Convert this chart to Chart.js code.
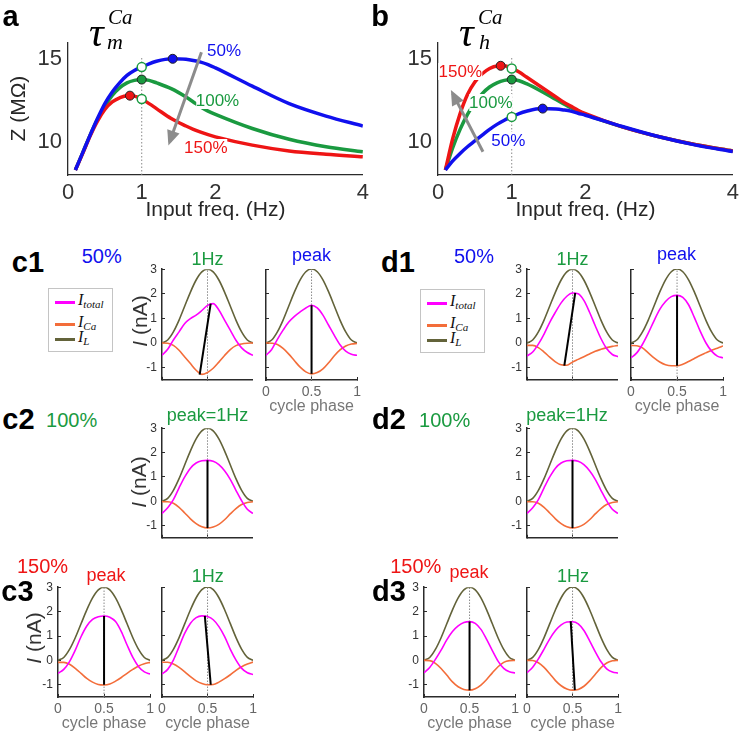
<!DOCTYPE html>
<html>
<head>
<meta charset="utf-8">
<script src="https://cdn.jsdelivr.net/npm/chart.js@4.4.0/dist/chart.umd.min.js"></script>
<style>
  body { margin: 0; background: #fff; }
  #fig { position: relative; width: 741px; height: 736px; overflow: hidden; font-family: "Liberation Sans", Arial, sans-serif; }
  .t { position: absolute; white-space: nowrap; line-height: 1; }
</style>
</head>
<body>
<div id="fig"></div>
<script>
// ---- impedance curves (panels a, b) ----
const FREQ = [0.1, 0.2, 0.3, 0.4, 0.5, 0.6, 0.7, 0.8, 0.9, 1.0, 1.1, 1.2, 1.4, 1.6, 1.7, 1.8, 1.9, 2.0, 2.5, 3.0, 3.5, 4.0];
const FREQ_TICKS = [0, 1, 2, 4];
const Z_TICKS = [10, 15];

// a: tau_m scaled to 50 / 100 / 150 %
const A_Z50  = [8.3, 9.35, 10.4, 11.4, 12.3, 13.0, 13.55, 14.0, 14.3, 14.5, 14.7, 14.85, 15.0, 14.97, 14.9, 14.8, 14.65, 14.45, 13.35, 12.3, 11.55, 10.95];
const A_Z100 = [8.3, 9.35, 10.4, 11.35, 12.15, 12.8, 13.25, 13.55, 13.7, 13.75, 13.7, 13.55, 13.2, 12.7, 12.4, 12.1, 11.85, 11.65, 10.8, 10.15, 9.7, 9.4];
const A_Z150 = [8.3, 9.3, 10.35, 11.25, 11.95, 12.4, 12.65, 12.78, 12.75, 12.58, 12.3, 12.0, 11.4, 10.95, 10.75, 10.58, 10.43, 10.3, 9.8, 9.45, 9.25, 9.1];
const A_PEAK_F = [1.42, 1.0, 0.84];      // 50, 100, 150 %
const A_PEAK_Z = [15.0, 13.75, 12.78];
const A_AT1_Z = [14.5, 12.58];           // 50 %, 150 % at 1 Hz
const A_ARROW_F = [1.81, 1.38];
const A_ARROW_Z = [15.4, 10.0];

// b: tau_h scaled to 50 / 100 / 150 %
const B_Z50  = [8.3, 8.85, 9.3, 9.7, 10.05, 10.4, 10.75, 11.05, 11.3, 11.5, 11.7, 11.84, 12.0, 11.97, 11.92, 11.85, 11.72, 11.6, 10.92, 10.3, 9.8, 9.42];
const B_Z100 = [8.3, 9.65, 10.75, 11.65, 12.35, 12.9, 13.3, 13.55, 13.7, 13.75, 13.68, 13.5, 13.05, 12.55, 12.3, 12.05, 11.85, 11.65, 10.9, 10.3, 9.82, 9.45];
const B_Z150 = [8.3, 10.2, 11.7, 12.85, 13.6, 14.1, 14.42, 14.57, 14.58, 14.42, 14.2, 13.9, 13.3, 12.7, 12.4, 12.15, 11.9, 11.7, 10.9, 10.3, 9.82, 9.45];
const B_PEAK_F = [1.42, 1.0, 0.85];
const B_PEAK_Z = [12.0, 13.75, 14.58];
const B_AT1_Z = [11.5, 14.42];
const B_ARROW_F = [0.61, 0.2];
const B_ARROW_Z = [9.4, 12.9];

const DOT_F = [1, 1];
const DOT_Z = [8, 15.1];

// ---- currents over one cycle (panels c, d) ----
const PHASE = [0, 0.0625, 0.125, 0.1875, 0.25, 0.3125, 0.375, 0.4375, 0.5, 0.5625, 0.625, 0.6875, 0.75, 0.8125, 0.875, 0.9375, 1];
const PHASE_TICKS = [0, 0.5, 1];
const I_TICKS = [-1, 0, 1, 2, 3];
const I_L = [0, 0.12, 0.45, 0.93, 1.5, 2.07, 2.56, 2.89, 3, 2.89, 2.56, 2.07, 1.5, 0.93, 0.45, 0.12, 0];
const MID_X = [0.5, 0.5];
const MID_Y = [-1.5, 3];

const C1A_TOT = [-0.5, -0.26, 0.12, 0.45, 0.79, 0.99, 1.13, 1.32, 1.53, 1.6, 1.34, 0.93, 0.52, 0.11, -0.2, -0.39, -0.5];
const C1A_CA  = [0, -0.01, -0.1, -0.3, -0.57, -0.84, -1.11, -1.28, -1.2, -1.03, -0.78, -0.51, -0.27, -0.11, -0.04, -0.01, 0];
const C1A_LX = [0.414, 0.535], C1A_LY = [-1.29, 1.6];
const C1B_TOT = [-0.5, -0.26, 0.15, 0.52, 0.85, 1.08, 1.26, 1.42, 1.53, 1.42, 1.13, 0.72, 0.31, -0.07, -0.33, -0.46, -0.5];
const C1B_CA  = [0, -0.01, -0.06, -0.22, -0.45, -0.72, -0.98, -1.17, -1.25, -1.2, -1.05, -0.8, -0.52, -0.28, -0.12, -0.04, -0.02];
const C1B_LX = [0.5, 0.5], C1B_LY = [-1.25, 1.53];

const D1A_TOT = [-0.53, -0.37, -0.05, 0.36, 0.84, 1.25, 1.63, 1.9, 2.03, 2.0, 1.73, 1.25, 0.7, 0.18, -0.23, -0.47, -0.56];
const D1A_CA  = [-0.1, -0.1, -0.19, -0.37, -0.58, -0.77, -0.89, -0.91, -0.78, -0.67, -0.56, -0.45, -0.34, -0.26, -0.19, -0.14, -0.1];
const D1A_LX = [0.41, 0.53], D1A_LY = [-0.92, 2.04];
const D1B_TOT = [-0.6, -0.4, -0.05, 0.4, 0.9, 1.36, 1.68, 1.88, 1.93, 1.85, 1.55, 1.04, 0.49, 0.01, -0.33, -0.53, -0.6];
const D1B_CA  = [-0.1, -0.11, -0.2, -0.4, -0.6, -0.77, -0.88, -0.92, -0.92, -0.86, -0.75, -0.63, -0.51, -0.4, -0.29, -0.21, -0.12];
const D1B_LX = [0.5, 0.5], D1B_LY = [-0.92, 1.93];

const CTRL_TOT = [-0.5, -0.27, 0.07, 0.55, 1.0, 1.36, 1.57, 1.66, 1.68, 1.64, 1.5, 1.25, 0.9, 0.45, 0.02, -0.33, -0.5];
const CTRL_CA  = [-0.02, -0.02, -0.08, -0.25, -0.48, -0.72, -0.92, -1.05, -1.1, -1.06, -0.95, -0.76, -0.52, -0.3, -0.13, -0.05, -0.02];
const CTRL_LX = [0.5, 0.5], CTRL_LY = [-1.1, 1.68];

const C3A_TOT = [-0.53, -0.37, -0.05, 0.42, 0.97, 1.41, 1.68, 1.79, 1.82, 1.77, 1.59, 1.18, 0.63, 0.12, -0.26, -0.47, -0.56];
const C3A_CA  = [-0.08, -0.08, -0.16, -0.33, -0.53, -0.74, -0.89, -0.99, -1.01, -0.97, -0.85, -0.7, -0.53, -0.37, -0.23, -0.14, -0.08];
const C3A_LX = [0.5, 0.5], C3A_LY = [-1.0, 1.82];
const C3B_TOT = [-0.56, -0.37, 0.01, 0.56, 1.11, 1.52, 1.75, 1.82, 1.79, 1.66, 1.38, 0.97, 0.45, 0.01, -0.33, -0.51, -0.58];
const C3B_CA  = [-0.08, -0.08, -0.15, -0.29, -0.47, -0.67, -0.84, -0.95, -1.0, -0.99, -0.89, -0.75, -0.59, -0.41, -0.26, -0.15, -0.07];
const C3B_LX = [0.47, 0.535], C3B_LY = [1.82, -1.0];

const D3A_TOT = [-0.51, -0.29, 0.04, 0.42, 0.84, 1.18, 1.41, 1.55, 1.59, 1.52, 1.27, 0.86, 0.4, -0.03, -0.33, -0.47, -0.51];
const D3A_CA  = [0, -0.01, -0.12, -0.33, -0.6, -0.88, -1.08, -1.19, -1.22, -1.16, -1.01, -0.78, -0.51, -0.26, -0.08, -0.01, 0];
const D3A_LX = [0.5, 0.5], D3A_LY = [-1.22, 1.59];
const D3B_TOT = [-0.51, -0.28, 0.06, 0.46, 0.88, 1.22, 1.45, 1.57, 1.58, 1.49, 1.22, 0.8, 0.35, -0.06, -0.35, -0.48, -0.52];
const D3B_CA  = [0, -0.01, -0.1, -0.29, -0.55, -0.83, -1.04, -1.17, -1.22, -1.19, -1.06, -0.84, -0.57, -0.3, -0.11, -0.02, 0];
const D3B_LX = [0.48, 0.525], D3B_LY = [1.6, -1.22];

const LEGEND_SUBS = ['total', 'Ca', 'L'];

// colours
const BLUE = '#1010ee', GREEN = '#1a9a40', RED = '#ee1515';
const C_TOT = '#ff00ff', C_CA = '#f36d3a', C_L = '#63633a';
const AX = '#2b2b2b', ARROW = '#8c8c8c', DOTC = '#8a8a8a';
const SERIF = '"Liberation Serif", "Times New Roman", serif';

Chart.defaults.font.family = '"Liberation Sans", Arial, sans-serif';
const fig = document.getElementById('fig');
const xy = (xs, ys) => xs.map((x, i) => ({ x: x, y: ys[i] }));
const tickList = vals => axis => { axis.ticks = vals.map(v => ({ value: v })); };

function place(left, top, w, h) {
    const cv = document.createElement('canvas');
    cv.width = w; cv.height = h;
    cv.style.cssText = `position:absolute;left:${left}px;top:${top}px;width:${w}px;height:${h}px`;
    fig.appendChild(cv);
    return cv;
}

// build once to learn how much room the axes take, then rebuild so the
// plot area lands on (x0, y0, w, h)
function mount(x0, y0, w, h, makeConfig) {
    let cv = place(x0 - 60, y0 - 30, w + 90, h + 90);
    let chart = new Chart(cv, makeConfig());
    const ca = chart.chartArea;
    const oL = ca.left, oT = ca.top, oR = chart.width - ca.right, oB = chart.height - ca.bottom;
    chart.destroy();
    cv.remove();
    cv = place(Math.round(x0 - oL), Math.round(y0 - oT), Math.round(oL + w + oR), Math.round(oT + h + oB));
    return new Chart(cv, makeConfig());
}

// draws a head at the last point of any dataset flagged with arrow: true
const arrowHead = {
    id: 'arrowHead',
    afterDatasetsDraw(chart) {
        chart.data.datasets.forEach((ds, i) => {
            if (!ds.arrow) return;
            const pts = chart.getDatasetMeta(i).data;
            const a = pts[0], b = pts[pts.length - 1];
            const ang = Math.atan2(b.y - a.y, b.x - a.x);
            const ctx = chart.ctx;
            ctx.save();
            ctx.fillStyle = ds.borderColor;
            ctx.translate(b.x, b.y);
            ctx.rotate(ang);
            ctx.beginPath();
            ctx.moveTo(4, 0);
            ctx.lineTo(-11, -6.5);
            ctx.lineTo(-11, 6.5);
            ctx.closePath();
            ctx.fill();
            ctx.restore();
        });
    }
};

function freqChart(o) {
    const yW = 61, xH = 50;
    const curve = (ys, color) => ({ data: xy(FREQ, ys), borderColor: color, borderWidth: 3.5, cubicInterpolationMode: 'monotone' });
    mount(o.x0, o.y0, o.x1 - o.x0, o.y1 - o.y0, () => ({
        type: 'line',
        data: {
            datasets: [
                { data: xy(o.peakF, o.peakZ), showLine: false, pointRadius: 4.5, pointBackgroundColor: [BLUE, GREEN, RED], pointBorderColor: '#222', pointBorderWidth: 1 },
                { data: xy(DOT_F, o.at1Z), showLine: false, pointRadius: 4.5, pointBackgroundColor: '#fff', pointBorderColor: GREEN, pointBorderWidth: 1.5 },
                { data: xy(o.arrowF, o.arrowZ), borderColor: ARROW, borderWidth: 3, arrow: true },
                curve(o.z50, BLUE),
                curve(o.z150, RED),
                curve(o.z100, GREEN),
                { data: xy(DOT_F, DOT_Z), borderColor: DOTC, borderWidth: 1, borderDash: [1.5, 2] }
            ]
        },
        options: {
            responsive: false, animation: false, events: [],
            elements: { point: { radius: 0 } },
            layout: { padding: 0 },
            plugins: { legend: { display: false }, tooltip: { enabled: false } },
            scales: {
                x: {
                    type: 'linear', min: 0, max: 4,
                    afterFit: s => { s.height = xH; },
                    afterBuildTicks: tickList(FREQ_TICKS),
                    grid: { display: false, drawTicks: false },
                    border: { display: true, color: AX, width: 1.3 },
                    ticks: { color: '#333', font: { size: 22 }, padding: 5, callback: v => String(v) },
                    title: { display: true, text: 'Input freq. (Hz)', color: '#262626', font: { size: 21 }, padding: { top: 0, bottom: 2.5 } }
                },
                y: {
                    min: 8, max: 16,
                    afterFit: s => { s.width = yW; },
                    afterBuildTicks: tickList(Z_TICKS),
                    grid: { display: false, drawTicks: false },
                    border: { display: true, color: AX, width: 1.3 },
                    ticks: { color: '#333', font: { size: 22 }, padding: 6 },
                    title: { display: o.yTitle, text: 'Z (MΩ)', color: '#262626', font: { size: 21 }, padding: 0 }
                }
            }
        },
        plugins: [arrowHead]
    }));
}

function subplot(s) {
    const yW = 30, xH = s.xLab ? 40 : 6;
    const trace = (ys, color) => ({ data: xy(PHASE, ys), borderColor: color, borderWidth: 1.6, cubicInterpolationMode: 'monotone' });
    const axisCommon = () => ({
        grid: { display: true, drawOnChartArea: false, drawTicks: true, tickLength: -3, color: AX, lineWidth: 1 },
        border: { display: true, color: AX, width: 1.5 }
    });
    mount(s.x0, s.y0, s.x1 - s.x0, s.y1 - s.y0, () => ({
        type: 'line',
        data: {
            datasets: [
                { data: xy(s.lx, s.ly), borderColor: '#000', borderWidth: 2 },
                trace(s.tot, C_TOT),
                trace(s.ca, C_CA),
                trace(I_L, C_L),
                { data: xy(MID_X, MID_Y), borderColor: DOTC, borderWidth: 1, borderDash: [1.5, 1.5] }
            ]
        },
        options: {
            responsive: false, animation: false, events: [],
            elements: { point: { radius: 0 } },
            layout: { padding: 0 },
            plugins: { legend: { display: false }, tooltip: { enabled: false } },
            scales: {
                x: {
                    type: 'linear', min: 0, max: 1,
                    afterFit: sc => { sc.height = xH; },
                    afterBuildTicks: tickList(PHASE_TICKS),
                    ...axisCommon(),
                    ticks: { display: s.xLab, color: '#666', font: { size: 14 }, padding: 7, callback: v => String(v) },
                    title: { display: s.xLab, text: 'cycle phase', color: '#777', font: { size: 16 }, padding: { top: 0, bottom: 3.5 } }
                },
                y: {
                    min: -1.5, max: 3,
                    afterFit: sc => { sc.width = yW; },
                    afterBuildTicks: tickList(I_TICKS),
                    ...axisCommon(),
                    ticks: { display: s.yLab, color: '#333', font: { size: 12 }, padding: 8 }
                }
            }
        }
    }));
}

function text(html, x, base, size, color, o = {}) {
    const d = document.createElement('div');
    d.className = 't';
    d.innerHTML = html;
    d.style.left = x + 'px';
    d.style.top = (base - 0.85 * size) + 'px';
    d.style.fontSize = size + 'px';
    d.style.color = color;
    if (o.bold) d.style.fontWeight = 'bold';
    if (o.serif) { d.style.fontFamily = SERIF; d.style.fontStyle = 'italic'; }
    if (o.bg) d.style.background = '#fff';
    if (o.align !== 'left') d.style.transform = 'translateX(-50%)';
    fig.appendChild(d);
}

function vtext(html, cx, cy, size, color) {
    const d = document.createElement('div');
    d.className = 't';
    d.innerHTML = html;
    d.style.cssText += `left:${cx}px;top:${cy}px;font-size:${size}px;color:${color};transform:translate(-50%,-50%) rotate(-90deg)`;
    fig.appendChild(d);
}

function legend(x, y) {
    const box = document.createElement('div');
    box.style.cssText = `position:absolute;left:${x}px;top:${y}px;width:65px;height:64px;border:1px solid #c4c4c4;background:#fff;box-sizing:border-box`;
    const rows = [13, 35, 50];
    const cols = [C_TOT, C_CA, C_L];
    LEGEND_SUBS.forEach((sub, i) => {
        const ln = document.createElement('div');
        ln.style.cssText = `position:absolute;left:6px;top:${rows[i] - 1.5}px;width:20px;height:3px;background:${cols[i]}`;
        box.appendChild(ln);
        const t = document.createElement('div');
        t.style.cssText = `position:absolute;left:29px;top:${rows[i] - 10}px;line-height:1;white-space:nowrap;font-family:${SERIF};font-style:italic;font-size:16px;color:#111`;
        t.innerHTML = `I<span style="font-size:11px;position:relative;top:3px">${sub}</span>`;
        box.appendChild(t);
    });
    fig.appendChild(box);
}

// ---- panels a and b ----
freqChart({ x0: 68, x1: 363, y0: 42, y1: 175, yTitle: true,
    z50: A_Z50, z100: A_Z100, z150: A_Z150, peakF: A_PEAK_F, peakZ: A_PEAK_Z, at1Z: A_AT1_Z, arrowF: A_ARROW_F, arrowZ: A_ARROW_Z });
freqChart({ x0: 438, x1: 733, y0: 42, y1: 175, yTitle: false,
    z50: B_Z50, z100: B_Z100, z150: B_Z150, peakF: B_PEAK_F, peakZ: B_PEAK_Z, at1Z: B_AT1_Z, arrowF: B_ARROW_F, arrowZ: B_ARROW_Z });

// ---- panels c and d ----
const R1 = [269, 380], R2 = [428, 538], R3 = [587, 697];
[
    { x0: 162, x1: 253, y: R1, yLab: true,  xLab: false, tot: C1A_TOT, ca: C1A_CA, lx: C1A_LX, ly: C1A_LY },
    { x0: 266, x1: 357, y: R1, yLab: false, xLab: true,  tot: C1B_TOT, ca: C1B_CA, lx: C1B_LX, ly: C1B_LY },
    { x0: 527, x1: 618, y: R1, yLab: true,  xLab: false, tot: D1A_TOT, ca: D1A_CA, lx: D1A_LX, ly: D1A_LY },
    { x0: 631, x1: 723, y: R1, yLab: false, xLab: true,  tot: D1B_TOT, ca: D1B_CA, lx: D1B_LX, ly: D1B_LY },
    { x0: 162, x1: 253, y: R2, yLab: true,  xLab: false, tot: CTRL_TOT, ca: CTRL_CA, lx: CTRL_LX, ly: CTRL_LY },
    { x0: 527, x1: 618, y: R2, yLab: true,  xLab: false, tot: CTRL_TOT, ca: CTRL_CA, lx: CTRL_LX, ly: CTRL_LY },
    { x0: 58,  x1: 150, y: R3, yLab: true,  xLab: true,  tot: C3A_TOT, ca: C3A_CA, lx: C3A_LX, ly: C3A_LY },
    { x0: 162, x1: 253, y: R3, yLab: false, xLab: true,  tot: C3B_TOT, ca: C3B_CA, lx: C3B_LX, ly: C3B_LY },
    { x0: 424, x1: 515, y: R3, yLab: true,  xLab: true,  tot: D3A_TOT, ca: D3A_CA, lx: D3A_LX, ly: D3A_LY },
    { x0: 527, x1: 618, y: R3, yLab: false, xLab: true,  tot: D3B_TOT, ca: D3B_CA, lx: D3B_LX, ly: D3B_LY }
].forEach(s => subplot({ ...s, y0: s.y[0], y1: s.y[1] }));

// ---- annotations ----
text('a', 10.5, 26.7, 29, '#000', { bold: true });
text('b', 380, 26.7, 29, '#000', { bold: true });
text('τ', 89, 47, 41, '#000', { serif: true, align: 'left' });
text('Ca', 108, 25, 21, '#000', { serif: true, align: 'left' });
text('m', 107, 50, 22, '#000', { serif: true, align: 'left' });
text('τ', 459, 47, 41, '#000', { serif: true, align: 'left' });
text('Ca', 478, 25, 21, '#000', { serif: true, align: 'left' });
text('h', 479, 50, 22, '#000', { serif: true, align: 'left' });

text('50%', 224, 56.7, 17, BLUE, { bg: true });
text('100%', 217.5, 106.7, 17, GREEN, { bg: true });
text('150%', 205.8, 153.3, 17, RED, { bg: true });
text('150%', 460.3, 77.3, 17, RED, { bg: true });
text('100%', 490.8, 108.3, 17, GREEN, { bg: true });
text('50%', 508.3, 146.7, 17, BLUE, { bg: true });

text('c1', 28, 272.7, 29, '#000', { bold: true });
text('d1', 398, 272.7, 29, '#000', { bold: true });
text('c2', 18.5, 429.3, 29, '#000', { bold: true });
text('d2', 389, 429.3, 29, '#000', { bold: true });
text('c3', 17.5, 601.7, 29, '#000', { bold: true });
text('d3', 389, 601.7, 29, '#000', { bold: true });

text('50%', 101.7, 263.3, 20, BLUE);
text('1Hz', 207.5, 265, 18, GREEN);
text('peak', 311.5, 261.5, 18, BLUE);
text('50%', 474, 263.3, 20, BLUE);
text('1Hz', 572.5, 265, 18, GREEN);
text('peak', 676.5, 260.5, 18, BLUE);
text('100%', 71.7, 426.7, 20, GREEN);
text('peak=1Hz', 207.5, 421.7, 18, GREEN);
text('100%', 444.7, 426.7, 20, GREEN);
text('peak=1Hz', 567, 421.7, 18, GREEN);
text('150%', 42.5, 573.3, 20, RED);
text('peak', 106, 581.7, 18, RED);
text('1Hz', 207.7, 582.7, 18, GREEN);
text('150%', 415.8, 573.3, 20, RED);
text('peak', 469, 578.3, 18, RED);
text('1Hz', 573, 582.7, 18, GREEN);

vtext('<i>I</i> (nA)', 139, 321, 21, '#333');
vtext('<i>I</i> (nA)', 138.3, 481.7, 21, '#333');
vtext('<i>I</i> (nA)', 33.3, 638.3, 21, '#333');

legend(48, 288);
legend(420, 289);
</script>
</body>
</html>
